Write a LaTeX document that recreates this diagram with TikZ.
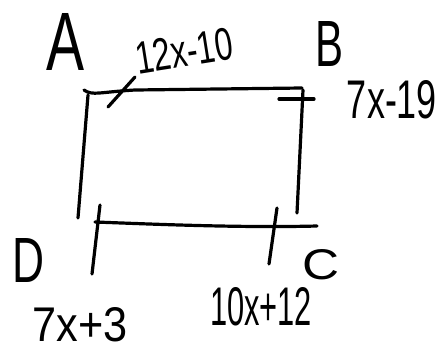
\documentclass[tikz,border=0pt]{standalone}
\usepackage{fontspec}
\setmainfont{Liberation Sans}
\tikzset{
  pen/.style={line width=3.2pt, line cap=round, line join=round, black},
  lbl/.style={inner sep=0pt, anchor=center}
}
\begin{document}
\begin{tikzpicture}[x=1pt,y=-1pt]
\useasboundingbox[fill=white] (0,0) rectangle (443,351);
% corners of the sketch
\coordinate (tl) at (84,90);
\coordinate (tr) at (302,88);
\coordinate (lt) at (88,95);
\coordinate (lb) at (78,218);
\coordinate (rt) at (303,90);
\coordinate (rb) at (297,213);
\coordinate (bl) at (95,222);
\coordinate (br) at (317,226);
% sides
\draw[pen] (tl) .. controls (92,96) and (100,92) .. (135,90) -- (tr);
\draw[pen] (lt) -- (lb);
\draw[pen] (rt) -- (rb);
\draw[pen] (bl) .. controls (150,224) and (240,228) .. (br);
% tick marks
\coordinate (t1a) at (108,107); \coordinate (t1b) at (135,77);
\draw[pen] (t1a) -- (t1b);
\coordinate (t2a) at (279,99); \coordinate (t2b) at (314,99);
\draw[pen] (t2a) -- (t2b);
\coordinate (t3a) at (100,205); \coordinate (t3b) at (92,274);
\draw[pen] (t3a) -- (t3b);
\coordinate (t4a) at (277,208); \coordinate (t4b) at (269,264);
\draw[pen] (t4a) -- (t4b);
% labels
\node[lbl] (A) at (66,42) {\resizebox{38pt}{57pt}{A}};
\node[lbl] (B) at (329,44) {\resizebox{28pt}{45pt}{B}};
\node[lbl] (C) at (321,265) {\resizebox{37pt}{30pt}{C}};
\node[lbl] (D) at (29,260) {\resizebox{32pt}{44pt}{D}};
\node[lbl, rotate=9] (ab) at (184,51) {\resizebox{98pt}{32pt}{12x-10}};
\node[lbl] (bc) at (392,100) {\resizebox{90pt}{38pt}{7x-19}};
\node[lbl] (dl) at (80,325) {\resizebox{95pt}{34pt}{7x+3}};
\node[lbl] (dc) at (261,307) {\resizebox{102pt}{38pt}{10x+12}};
\end{tikzpicture}
\end{document}
